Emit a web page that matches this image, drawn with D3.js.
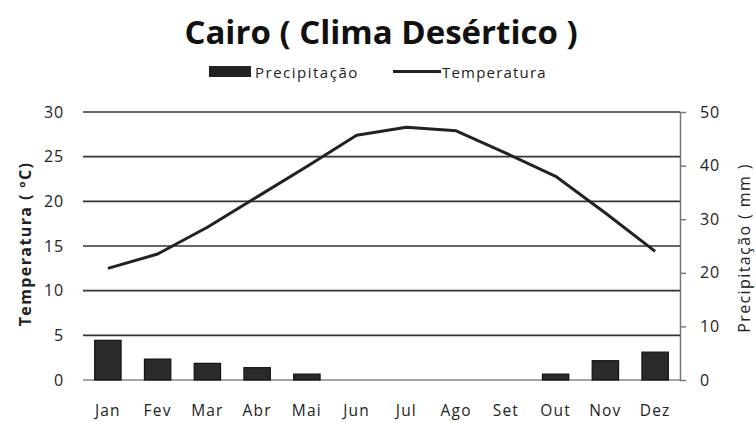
<!DOCTYPE html>
<html><head><meta charset="utf-8">
<script src="https://cdn.jsdelivr.net/npm/d3@7"></script>
<style>body{margin:0;background:#fff}svg{display:block}text{font-family:"Open Sans",sans-serif}</style>
</head><body>
<script>
const months = ["Jan","Fev","Mar","Abr","Mai","Jun","Jul","Ago","Set","Out","Nov","Dez"];
const precip = [7.4,3.9,3.1,2.3,1.1,0,0,0,0,1.1,3.6,5.2];
const temp = [12.5,14.1,17.1,20.5,23.9,27.4,28.3,27.9,25.4,22.8,18.7,14.4];
const tempTicks = [0,5,10,15,20,25,30];
const precipTicks = [0,10,20,30,40,50];

const W=756,H=423;
const svg=d3.select("body").append("svg").attr("width",W).attr("height",H);
const L=83,R=680,T=112,B=380;
const x=d3.scaleBand().domain(months).range([L,R]).paddingInner(0.47).paddingOuter(0.235);
const xc=d3.scaleBand().domain(months).range([L,R]);
const yT=d3.scaleLinear().domain([0,30]).range([B,T]);
const yP=d3.scaleLinear().domain([0,50]).range([B,T]);

// gridlines
svg.append("g").selectAll("line").data(tempTicks).join("line")
 .attr("x1",L).attr("x2",R).attr("y1",d=>yT(d)).attr("y2",d=>yT(d))
 .attr("stroke",d=>d===0?"#888":"#333").attr("stroke-width",1.6);

// left axis labels
const la=svg.append("g").attr("transform",`translate(${L},0)`).call(d3.axisLeft(yT).tickValues(tempTicks).tickSize(0).tickPadding(19));
la.select(".domain").remove();
la.selectAll("text").attr("font-size",16).attr("letter-spacing",0.8).attr("fill","#222").style("font-family","'Open Sans',sans-serif");

// right axis
const ra=svg.append("g").attr("transform",`translate(${R},0)`).call(d3.axisRight(yP).tickValues(precipTicks).tickSize(6).tickSizeOuter(0).tickPadding(14));
ra.select(".domain").attr("stroke","#777").attr("stroke-width",1.5);
ra.selectAll(".tick line").attr("stroke","#777").attr("stroke-width",1.5);
ra.selectAll("text").attr("font-size",16).attr("letter-spacing",0.8).attr("fill","#222").style("font-family","'Open Sans',sans-serif");

// bars
svg.append("g").selectAll("rect").data(months.map((m,i)=>({m,v:precip[i]})).filter(d=>d.v>0)).join("rect")
 .attr("x",d=>x(d.m)).attr("width",x.bandwidth())
 .attr("y",d=>yP(d.v)).attr("height",d=>B-yP(d.v))
 .attr("fill","#2b2b2b").attr("stroke","#111").attr("stroke-width",1.2);

// line
svg.append("path").datum(temp)
 .attr("d",d3.line().x((d,i)=>xc(months[i])+xc.bandwidth()/2).y(d=>yT(d)))
 .attr("fill","none").attr("stroke","#222").attr("stroke-width",3).attr("stroke-linejoin","round");

// x axis labels
svg.append("g").selectAll("text").data(months).join("text")
 .attr("x",d=>xc(d)+xc.bandwidth()/2).attr("y",416).attr("text-anchor","middle")
 .attr("font-size",15.5).attr("letter-spacing",1.2).attr("fill","#222").text(d=>d);

// title
svg.append("text").attr("x",381).attr("y",44).attr("text-anchor","middle")
 .attr("font-size",33).attr("font-weight","bold").attr("fill","#111").text("Cairo ( Clima Desértico )");

// legend
const lg=svg.append("g");
lg.append("rect").attr("x",209).attr("y",66).attr("width",42).attr("height",11).attr("fill","#222");
lg.append("text").attr("x",255).attr("y",77.5).attr("font-size",15).attr("letter-spacing",1.5).attr("fill","#222").text("Precipitação");
lg.append("line").attr("x1",393).attr("x2",441).attr("y1",71.5).attr("y2",71.5).attr("stroke","#222").attr("stroke-width",3);
lg.append("text").attr("x",442).attr("y",77.5).attr("font-size",15).attr("letter-spacing",1.2).attr("fill","#222").text("Temperatura");

// axis titles
svg.append("text").attr("transform","translate(31,244) rotate(-90)").attr("text-anchor","middle")
 .attr("font-size",16).attr("letter-spacing",1.4).attr("font-weight","bold").attr("fill","#222").text("Temperatura ( ºC)");
svg.append("text").attr("transform","translate(750,248) rotate(-90)").attr("text-anchor","middle")
 .attr("font-size",16).attr("letter-spacing",1.4).attr("fill","#222").text("Precipitação ( mm )");
</script>
</body></html>
